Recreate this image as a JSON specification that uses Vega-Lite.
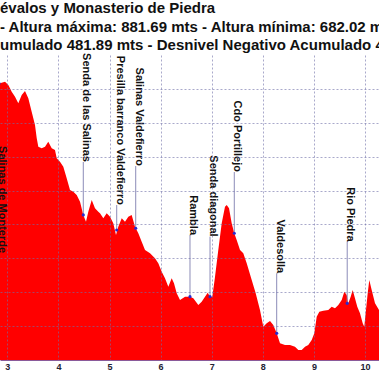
{
  "$schema": "https://vega.github.io/schema/vega-lite/v6.json",
  "width": 379,
  "height": 305,
  "autosize": {"type": "none"},
  "padding": {"left": 0, "right": 0, "top": 55, "bottom": 19},
  "background": "white",
  "title": {
    "text": ["évalos y Monasterio de Piedra", "- Altura máxima: 881.69 mts - Altura mínima: 682.02 m", "umulado 481.89 mts - Desnivel Negativo Acumulado 4"],
    "anchor": "start",
    "frame": "group",
    "font": "Liberation Sans",
    "fontSize": 15,
    "fontWeight": "bold",
    "color": "#111111",
    "lineHeight": 18.5,
    "offset": 0
  },
  "config": {"view": {"stroke": null}},
  "datasets": {
    "profile": [
      {"km": 2.83, "elev": 879.0}, {"km": 2.857, "elev": 879.1}, {"km": 2.955, "elev": 880.3}, {"km": 3.020, "elev": 877.9},
      {"km": 3.086, "elev": 872.9}, {"km": 3.151, "elev": 869.2}, {"km": 3.215, "elev": 864.4}, {"km": 3.282, "elev": 870.5},
      {"km": 3.346, "elev": 873.4}, {"km": 3.411, "elev": 868.1}, {"km": 3.477, "elev": 858.2}, {"km": 3.542, "elev": 848.4},
      {"km": 3.575, "elev": 838.8}, {"km": 3.607, "elev": 832.3}, {"km": 3.673, "elev": 831.2}, {"km": 3.738, "elev": 832.3},
      {"km": 3.802, "elev": 836.0}, {"km": 3.869, "elev": 831.2}, {"km": 3.933, "elev": 829.9}, {"km": 3.967, "elev": 823.8},
      {"km": 4.031, "elev": 821.3}, {"km": 4.096, "elev": 817.6}, {"km": 4.162, "elev": 809.0}, {"km": 4.227, "elev": 800.4},
      {"km": 4.292, "elev": 799.2}, {"km": 4.358, "elev": 796.7}, {"km": 4.423, "elev": 791.8}, {"km": 4.487, "elev": 782.0},
      {"km": 4.540, "elev": 777.0}, {"km": 4.585, "elev": 784.4}, {"km": 4.652, "elev": 793.0}, {"km": 4.716, "elev": 786.9},
      {"km": 4.781, "elev": 784.4}, {"km": 4.814, "elev": 783.2}, {"km": 4.879, "elev": 779.5}, {"km": 4.945, "elev": 783.2},
      {"km": 5.010, "elev": 780.7}, {"km": 5.074, "elev": 775.8}, {"km": 5.127, "elev": 767.2}, {"km": 5.172, "elev": 773.3},
      {"km": 5.239, "elev": 779.5}, {"km": 5.303, "elev": 777.0}, {"km": 5.368, "elev": 780.7}, {"km": 5.434, "elev": 782.0},
      {"km": 5.499, "elev": 773.3}, {"km": 5.564, "elev": 768.5}, {"km": 5.630, "elev": 762.3}, {"km": 5.695, "elev": 756.1},
      {"km": 5.793, "elev": 753.7}, {"km": 5.890, "elev": 750.0}, {"km": 5.955, "elev": 746.3}, {"km": 6.022, "elev": 740.1},
      {"km": 6.086, "elev": 735.3}, {"km": 6.151, "elev": 729.1}, {"km": 6.217, "elev": 735.3}, {"km": 6.262, "elev": 731.6},
      {"km": 6.315, "elev": 724.2}, {"km": 6.380, "elev": 719.3}, {"km": 6.478, "elev": 721.7}, {"km": 6.575, "elev": 721.7},
      {"km": 6.640, "elev": 720.5}, {"km": 6.738, "elev": 715.6}, {"km": 6.804, "elev": 718.0}, {"km": 6.869, "elev": 721.7},
      {"km": 6.922, "elev": 724.6}, {"km": 6.967, "elev": 721.7}, {"km": 7.012, "elev": 721.7}, {"km": 7.065, "elev": 736.4},
      {"km": 7.129, "elev": 756.1}, {"km": 7.196, "elev": 775.8}, {"km": 7.260, "elev": 788.1}, {"km": 7.294, "elev": 789.3},
      {"km": 7.339, "elev": 786.9}, {"km": 7.391, "elev": 775.8}, {"km": 7.442, "elev": 768.5}, {"km": 7.489, "elev": 763.5},
      {"km": 7.554, "elev": 756.1}, {"km": 7.618, "elev": 753.7}, {"km": 7.685, "elev": 746.3}, {"km": 7.783, "elev": 734.0},
      {"km": 7.861, "elev": 724.2}, {"km": 7.945, "elev": 711.9}, {"km": 8.010, "elev": 699.6}, {"km": 8.076, "elev": 702.1},
      {"km": 8.141, "elev": 703.8}, {"km": 8.205, "elev": 700.8}, {"km": 8.272, "elev": 694.7}, {"km": 8.337, "elev": 687.3},
      {"km": 8.434, "elev": 686.1}, {"km": 8.532, "elev": 686.1}, {"km": 8.630, "elev": 684.8}, {"km": 8.695, "elev": 682.4},
      {"km": 8.761, "elev": 682.4}, {"km": 8.826, "elev": 684.8}, {"km": 8.890, "elev": 686.1}, {"km": 8.957, "elev": 689.8},
      {"km": 9.008, "elev": 694.7}, {"km": 9.055, "elev": 706.9}, {"km": 9.106, "elev": 710.6}, {"km": 9.184, "elev": 711.4},
      {"km": 9.282, "elev": 711.9}, {"km": 9.348, "elev": 714.3}, {"km": 9.413, "elev": 713.1}, {"km": 9.478, "elev": 715.6},
      {"km": 9.544, "elev": 719.3}, {"km": 9.595, "elev": 725.4}, {"km": 9.642, "elev": 722.9}, {"km": 9.673, "elev": 716.8},
      {"km": 9.720, "elev": 721.7}, {"km": 9.759, "elev": 726.6}, {"km": 9.804, "elev": 720.5}, {"km": 9.849, "elev": 714.3},
      {"km": 9.902, "elev": 709.4}, {"km": 9.955, "elev": 702.1}, {"km": 9.986, "elev": 699.6}, {"km": 10.019, "elev": 711.9},
      {"km": 10.053, "elev": 724.2}, {"km": 10.084, "elev": 734.0}, {"km": 10.131, "elev": 726.6}, {"km": 10.196, "elev": 716.8},
      {"km": 10.274, "elev": 711.9}, {"km": 10.30, "elev": 709.0}
    ],
    "waypoints": [
      {"name": "Salinas de Monterde", "km": 2.837, "label": 753.9, "dot": 879.0},
      {"name": "Senda de las Salinas", "km": 4.487, "label": 821.1, "dot": 782.0},
      {"name": "Presilla barranco Valdefierro", "km": 5.141, "label": 789.3, "dot": 770.9},
      {"name": "Salinas Valdefierro", "km": 5.513, "label": 818.1, "dot": 772.2},
      {"name": "Rambla", "km": 6.575, "label": 767.2, "dot": 721.7},
      {"name": "Senda diagonal", "km": 6.967, "label": 766.0, "dot": 721.7},
      {"name": "Cdo Portillejo", "km": 7.442, "label": 813.7, "dot": 768.5},
      {"name": "Valdesolla", "km": 8.272, "label": 739.0, "dot": 694.7},
      {"name": "Rio Piedra", "km": 9.652, "label": 762.3, "dot": 716.8}
    ]
  },
  "layer": [
    {
      "data": {"name": "profile"},
      "mark": {"type": "area", "color": "#ff0000", "clip": true, "opacity": 1},
      "encoding": {
        "x": {
          "field": "km", "type": "quantitative",
          "scale": {"domain": [2.857, 10.274], "nice": false, "zero": false},
          "axis": {
            "values": [3, 4, 5, 6, 7, 8, 9, 10], "title": null, "grid": true,
            "gridDash": [2, 2], "gridColor": "#6f6fa8", "gridOpacity": 0.6, "gridWidth": 1,
            "ticks": false, "domainColor": "#8a5a9a", "domainWidth": 1,
            "labelFont": "Liberation Sans", "labelFontWeight": "bold", "labelFontSize": 9,
            "labelColor": "#222233", "labelPadding": 2, "labelFlush": false, "labelOverlap": false,
            "zindex": 1
          }
        },
        "y": {
          "field": "elev", "type": "quantitative",
          "scale": {"domain": [675, 900], "nice": false, "zero": false},
          "axis": {
            "values": [700, 725, 750, 775, 800, 825, 850, 875], "title": null, "grid": true,
            "gridDash": [2, 2], "gridColor": "#6f6fa8", "gridOpacity": 0.6, "gridWidth": 1,
            "labels": false, "ticks": false, "domain": false, "zindex": 1
          }
        }
      }
    },
    {
      "data": {"name": "waypoints"},
      "mark": {"type": "rule", "color": "#8c8cb8", "strokeWidth": 1},
      "encoding": {
        "x": {"field": "km", "type": "quantitative"},
        "y": {"field": "label", "type": "quantitative"},
        "y2": {"field": "dot"}
      }
    },
    {
      "data": {"name": "waypoints"},
      "mark": {"type": "circle", "color": "#2a2acc", "size": 10, "opacity": 1},
      "encoding": {
        "x": {"field": "km", "type": "quantitative"},
        "y": {"field": "dot", "type": "quantitative"}
      }
    },
    {
      "data": {"name": "waypoints"},
      "mark": {"type": "text", "angle": 90, "align": "right", "baseline": "alphabetic", "font": "Liberation Sans", "fontWeight": "bold", "fontSize": 11, "color": "#111111"},
      "encoding": {
        "x": {"field": "km", "type": "quantitative"},
        "y": {"field": "label", "type": "quantitative"},
        "text": {"field": "name"}
      }
    }
  ]
}
